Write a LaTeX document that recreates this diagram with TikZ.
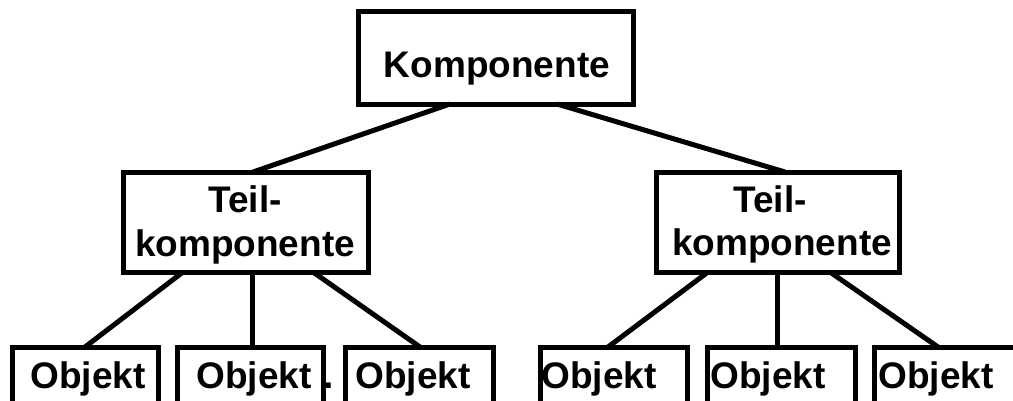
\documentclass[tikz,border=0pt]{standalone}
\usepackage{fontspec}
\setmainfont{Liberation Sans}
\begin{document}
\begin{tikzpicture}[x=1pt,y=-1pt,
  box/.style={draw=black, line width=5pt, fill=white, inner sep=0pt, outer sep=0pt},
  objbox/.style={box, minimum height=73pt},
  txt/.style={inner sep=0pt, outer sep=0pt, font=\bfseries\fontsize{37}{45}\selectfont},
  link/.style={draw=black, line width=5pt}]
\useasboundingbox (0,0) rectangle (1013,400);
\fill[white] (0,0) rectangle (1013,400);
% boxes
\node[box, minimum width=275pt, minimum height=93pt] (K) at (495.5,57.5) {};
\node[box, minimum width=245pt, minimum height=100pt] (T1) at (245.5,222) {};
\node[box, minimum width=243pt, minimum height=100pt] (T2) at (777.5,222) {};
\node[objbox, minimum width=146pt] (O1) at (85,383.5) {};
\node[objbox, minimum width=146pt] (O2) at (250.5,383.5) {};
\node[objbox, minimum width=148pt] (O3) at (419,383.5) {};
\node[objbox, minimum width=147pt] (O4) at (613.5,383.5) {};
\node[objbox, minimum width=148pt] (O5) at (781,383.5) {};
\node[objbox, minimum width=147pt] (O6) at (947.5,383.5) {};
% connectors
\draw[link] ([xshift=-45.5pt]K.south) -- ([xshift=7.5pt]T1.north);
\draw[link] ([xshift=61.5pt]K.south) -- ([xshift=7.5pt]T2.north);
\draw[link] ([xshift=-62.5pt]T1.south) -- (O1.north);
\draw[link] ([xshift=6.5pt]T1.south) -- ([xshift=1.5pt]O2.north);
\draw[link] ([xshift=67.5pt]T1.south) -- ([xshift=1pt]O3.north);
\draw[link] ([xshift=-69.5pt]T2.south) -- ([xshift=-5.5pt]O4.north);
\draw[link] ([xshift=-0.5pt]T2.south) -- ([xshift=-4pt]O5.north);
\draw[link] ([xshift=52.5pt]T2.south) -- ([xshift=-9.5pt]O6.north);
% texts
\node[txt, anchor=base] (kt) at (497,77) {Komponente};
\node[txt, anchor=base] (t1a) at (245,212) {Teil-};
\node[txt, anchor=base] (t1b) at (245,256) {komponente};
\node[txt, anchor=base] (t2a) at (770,212) {Teil-};
\node[txt, anchor=base] (t2b) at (782,255) {komponente};
\node[txt, anchor=base west] (o1) at (30.5,388) {Objekt};
\node[txt, anchor=base west] (o2) at (196.5,388) {Objekt};
\node[txt, anchor=base west] (dot) at (323,388) {.};
\node[txt, anchor=base west] (o3) at (355.5,388) {Objekt};
\node[txt, anchor=base west] (o4) at (541.5,388) {Objekt};
\node[txt, anchor=base west] (o5) at (710.5,388) {Objekt};
\node[txt, anchor=base west] (o6) at (878.5,388) {Objekt};
\end{tikzpicture}
\end{document}
